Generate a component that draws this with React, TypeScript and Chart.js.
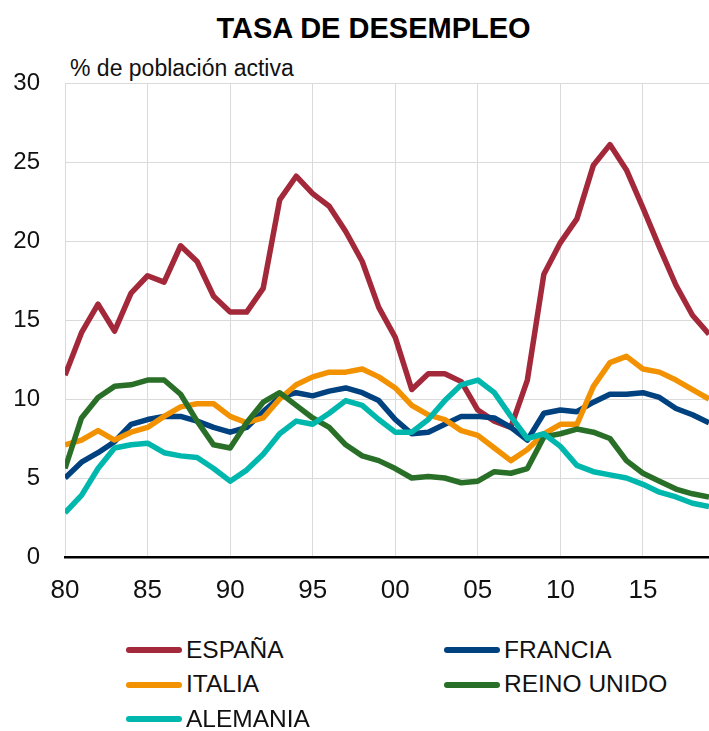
import React, { useEffect, useRef } from "react";
import { Chart, registerables } from "chart.js";

Chart.register(...registerables);

const years = [
  1980, 1981, 1982, 1983, 1984, 1985, 1986, 1987, 1988, 1989,
  1990, 1991, 1992, 1993, 1994, 1995, 1996, 1997, 1998, 1999,
  2000, 2001, 2002, 2003, 2004, 2005, 2006, 2007, 2008, 2009,
  2010, 2011, 2012, 2013, 2014, 2015, 2016, 2017, 2018, 2019,
];

const espana = [
  11.5, 14.2, 16.0, 14.3, 16.7, 17.8, 17.4, 19.7, 18.7, 16.5,
  15.5, 15.5, 17.0, 22.6, 24.1, 23.0, 22.2, 20.6, 18.7, 15.8,
  13.9, 10.6, 11.6, 11.6, 11.1, 9.3, 8.6, 8.2, 11.2, 17.9,
  19.9, 21.4, 24.8, 26.1, 24.5, 22.1, 19.6, 17.2, 15.3, 14.1,
];

const francia = [
  5.0, 6.0, 6.6, 7.3, 8.4, 8.7, 8.9, 8.9, 8.6, 8.2,
  7.9, 8.2, 9.2, 10.1, 10.4, 10.2, 10.5, 10.7, 10.4, 9.9,
  8.7, 7.8, 7.9, 8.4, 8.9, 8.9, 8.8, 8.2, 7.4, 9.1,
  9.3, 9.2, 9.8, 10.3, 10.3, 10.4, 10.1, 9.4, 9.0, 8.5,
];

const italia = [
  7.1, 7.4, 8.0, 7.4, 7.9, 8.2, 8.9, 9.5, 9.7, 9.7,
  8.9, 8.5, 8.8, 10.0, 10.9, 11.4, 11.7, 11.7, 11.9, 11.4,
  10.7, 9.6, 9.0, 8.7, 8.0, 7.7, 6.9, 6.1, 6.8, 7.8,
  8.4, 8.4, 10.8, 12.3, 12.7, 11.9, 11.7, 11.2, 10.6, 10.0,
];

const reinoUnido = [
  5.6, 8.8, 10.1, 10.8, 10.9, 11.2, 11.2, 10.3, 8.6, 7.1,
  6.9, 8.5, 9.8, 10.4, 9.6, 8.8, 8.2, 7.1, 6.4, 6.1,
  5.6, 5.0, 5.1, 5.0, 4.7, 4.8, 5.4, 5.3, 5.6, 7.6,
  7.8, 8.1, 7.9, 7.5, 6.1, 5.3, 4.8, 4.3, 4.0, 3.8,
];

const alemania = [
  2.8, 3.9, 5.6, 6.9, 7.1, 7.2, 6.6, 6.4, 6.3, 5.6,
  4.8, 5.5, 6.5, 7.8, 8.6, 8.4, 9.1, 9.9, 9.6, 8.7,
  7.9, 7.9, 8.7, 9.9, 10.9, 11.2, 10.4, 8.9, 7.5, 7.8,
  7.0, 5.8, 5.4, 5.2, 5.0, 4.6, 4.1, 3.8, 3.4, 3.2,
];

const seriesNames = ["ESPAÑA", "FRANCIA", "ITALIA", "REINO UNIDO", "ALEMANIA"];
const seriesColors = ["#a3283a", "#00417f", "#f39200", "#2a6f28", "#00b7ae"];
const seriesValues = [espana, francia, italia, reinoUnido, alemania];
const seriesOrder = [5, 4, 3, 2, 1];

const titleText = "TASA DE DESEMPLEO";
const subtitleText = "% de población activa";

const FONT = "'Liberation Sans', Arial, Helvetica, sans-serif";
const CANVAS_W = 709;
const CANVAS_H = 620;

export default function App() {
  const canvasRef = useRef<HTMLCanvasElement | null>(null);

  useEffect(() => {
    const canvas = canvasRef.current;
    if (!canvas) return;
    const chart = new Chart(canvas, {
      type: "line",
      data: {
        datasets: seriesNames.map((name, i) => ({
          label: name,
          data: years.map((y, j) => ({ x: y, y: seriesValues[i][j] })),
          borderColor: seriesColors[i],
          backgroundColor: seriesColors[i],
          borderWidth: 5.5,
          pointRadius: 0,
          tension: 0,
          borderJoinStyle: "round" as const,
          borderCapStyle: "butt" as const,
          order: seriesOrder[i],
        })),
      },
      options: {
        animation: false,
        responsive: false,
        maintainAspectRatio: false,
        layout: { padding: { top: 83, left: 0, right: 0, bottom: 0 } },
        plugins: {
          legend: { display: false },
          title: { display: false },
          tooltip: { enabled: false },
        },
        scales: {
          x: {
            type: "linear",
            min: 1980,
            max: 2019,
            afterFit: (scale: any) => {
              scale.height = CANVAS_H - 557;
            },
            ticks: {
              stepSize: 5,
              includeBounds: false,
              padding: 18,
              color: "#111",
              font: { family: FONT, size: 26 },
              maxRotation: 0,
              callback: (v: any) => String(Number(v) % 100).padStart(2, "0"),
            },
            grid: { color: "#dadada", lineWidth: 1, drawTicks: false },
            border: { display: true, color: "#000", width: 2.5 },
          },
          y: {
            min: 0,
            max: 30,
            afterFit: (scale: any) => {
              scale.width = 65;
            },
            ticks: {
              stepSize: 5,
              padding: 25,
              color: "#111",
              font: { family: FONT, size: 24 },
            },
            grid: { color: "#dadada", lineWidth: 1, drawTicks: false },
            border: { display: false },
          },
        },
      },
    });
    return () => chart.destroy();
  }, []);

  const legendRows = [
    { i: 0, left: 126, y: 650 },
    { i: 1, left: 444, y: 650 },
    { i: 2, left: 126, y: 684.5 },
    { i: 3, left: 444, y: 684.5 },
    { i: 4, left: 126, y: 719 },
  ];

  return (
    <div
      style={{
        position: "fixed",
        left: 0,
        top: 0,
        width: CANVAS_W,
        height: 731,
        background: "#fff",
        fontFamily: FONT,
        color: "#111",
      }}
    >
      <div
        style={{
          position: "absolute",
          left: 0,
          width: 747,
          top: 13.5,
          textAlign: "center",
          fontWeight: "bold",
          fontSize: 29,
          lineHeight: "29px",
          color: "#000",
          whiteSpace: "nowrap",
        }}
      >
        {titleText}
      </div>
      <div
        style={{
          position: "absolute",
          left: 70,
          top: 56.5,
          fontSize: 23,
          lineHeight: "23px",
          whiteSpace: "nowrap",
        }}
      >
        {subtitleText}
      </div>
      <canvas
        ref={canvasRef}
        width={CANVAS_W}
        height={CANVAS_H}
        style={{ position: "absolute", left: 0, top: 0, width: CANVAS_W, height: CANVAS_H }}
      />
      {legendRows.map((r) => (
        <div
          key={r.i}
          style={{
            position: "absolute",
            left: r.left,
            top: r.y - 15,
            height: 30,
            display: "flex",
            alignItems: "center",
            whiteSpace: "nowrap",
          }}
        >
          <span
            style={{
              display: "inline-block",
              width: 56,
              height: 6,
              borderRadius: 3,
              background: seriesColors[r.i],
            }}
          />
          <span style={{ marginLeft: 4, fontSize: 24.5, lineHeight: "24.5px" }}>
            {seriesNames[r.i]}
          </span>
        </div>
      ))}
    </div>
  );
}
